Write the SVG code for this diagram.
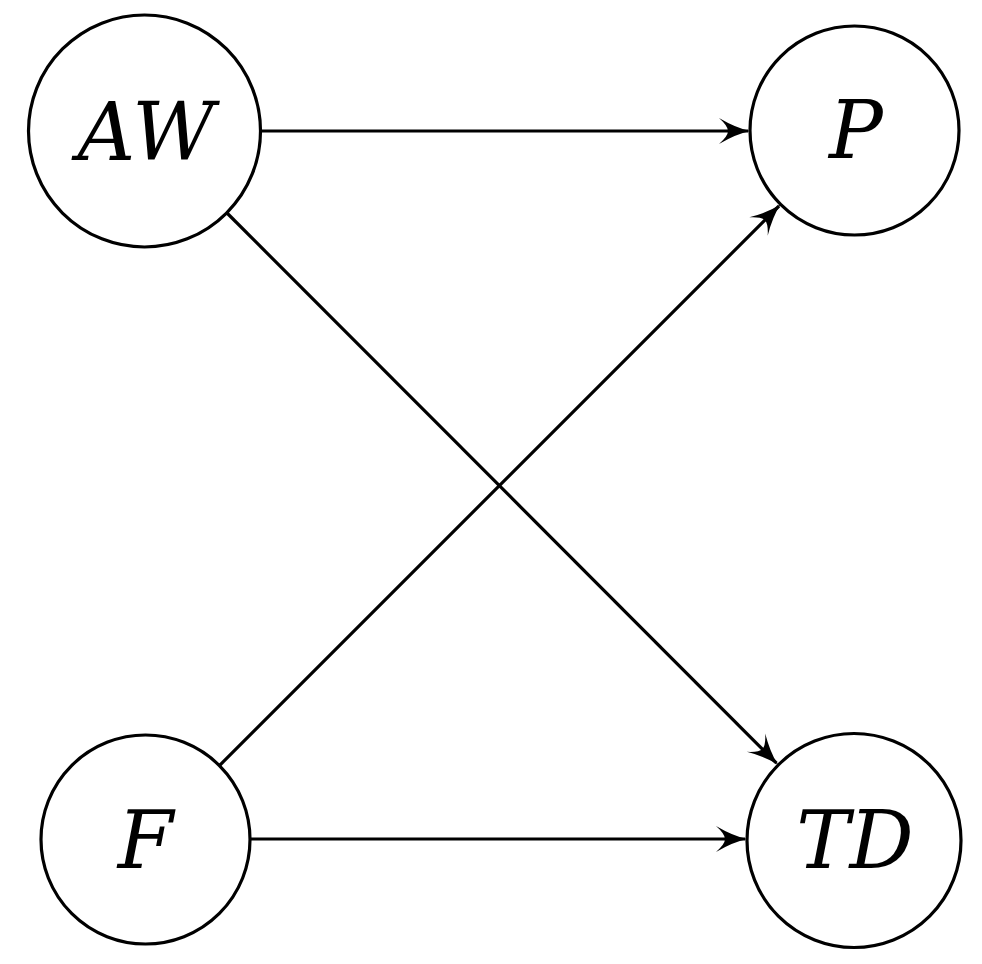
<svg xmlns="http://www.w3.org/2000/svg" width="982" height="964" viewBox="0 0 982 964">
<style>
.node{fill:#fff;stroke:#000;stroke-width:3.2}
.lbl{font-family:'DejaVu Serif',serif;font-style:italic;font-size:80px;fill:#000;text-anchor:middle}
.edge{stroke:#000;stroke-width:3.2;fill:none;marker-end:url(#arr)}
</style>
<defs>
<marker id="arr" markerUnits="userSpaceOnUse" markerWidth="50" markerHeight="40" viewBox="-40 -20 50 40" refX="-2" refY="0" orient="auto" overflow="visible">
<path d="M0,0 Q-14,-3 -31,-13 Q-22,-5 -22,0 Q-22,5 -31,13 Q-14,3 0,0 Z" fill="#000"/>
</marker>
</defs>
<rect width="982" height="964" fill="#fff"/>
<g id="connectors">
<line class="edge" x1="261" y1="131" x2="748" y2="131"/>
<line class="edge" x1="250" y1="839" x2="745" y2="839"/>
<line class="edge" x1="227" y1="213" x2="776.5" y2="763.2"/>
<line class="edge" x1="219.5" y1="765.5" x2="779" y2="206"/>
</g>
<g id="AW"><circle class="node" cx="144.5" cy="131" r="116"/><text class="lbl" x="146" y="160">AW</text></g>
<g id="P"><circle class="node" cx="854.5" cy="130.5" r="104.5"/><text class="lbl" x="856" y="158">P</text></g>
<g id="F"><circle class="node" cx="145.5" cy="839.5" r="104.5"/><text class="lbl" x="145.5" y="868">F</text></g>
<g id="TD"><circle class="node" cx="854" cy="840.5" r="107"/><text class="lbl" x="855" y="868">TD</text></g>
</svg>
